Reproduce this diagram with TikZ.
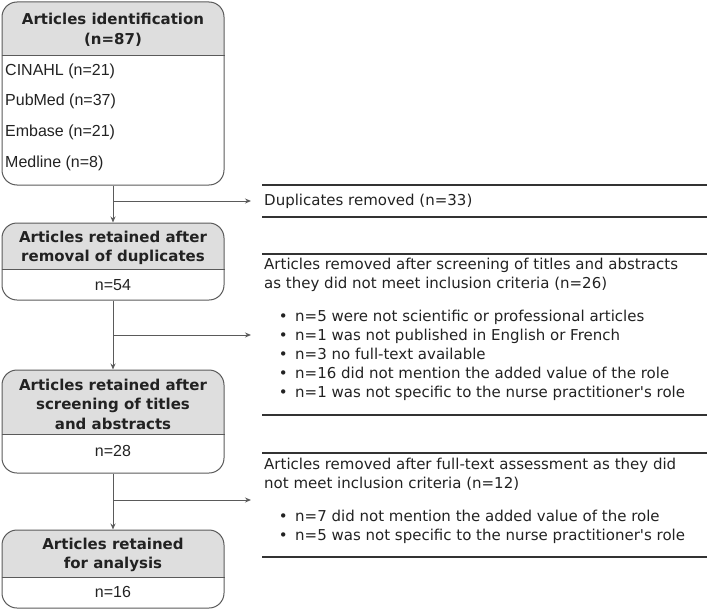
\documentclass[tikz,border=0pt]{standalone}
\usepackage{fontspec}
\newfontfamily\verd{DejaVu Sans}
\newfontfamily\arialf{Liberation Sans}
\usetikzlibrary{arrows.meta,calc}
\definecolor{hdr}{HTML}{DEDEDE}
\definecolor{edge}{HTML}{5A5A5A}
\definecolor{ink}{HTML}{222222}
\definecolor{rulec}{HTML}{333333}
\newcommand\bitem{\makebox[31pt][l]{\hspace*{14.6pt}\textbullet}}
\begin{document}
\begin{tikzpicture}[x=1pt,y=-1pt,
  frame/.style={draw=edge, line width=1pt, rounded corners=15pt, inner sep=0pt, minimum width=222pt},
  divider/.style={draw=edge, line width=1pt},
  htext/.style={font=\verd\bfseries\fontsize{15}{19.5}\selectfont, align=center, text=ink, inner sep=0pt},
  btext/.style={font=\arialf\fontsize{16}{18}\selectfont, text=ink, inner sep=0pt},
  rtext/.style={font=\verd\fontsize{15}{19}\selectfont, align=left, text=ink, inner sep=0pt, anchor=north west},
  rulel/.style={draw=rulec, line width=2pt},
  arr/.style={draw=edge, line width=1pt, -{Stealth[length=6pt,width=5pt]}}
]
\useasboundingbox (0,0) rectangle (709,610);

% ---------- box 1
\begin{scope}
\clip[rounded corners=15pt] (2,2) rectangle (224,185);
\fill[hdr] (2,2) rectangle (224,56);
\end{scope}
\node[frame, minimum height=183pt] (b1) at (113,93.5) {};
\draw[divider] (b1.west |- 0,56) -- (b1.east |- 0,56);
\node[htext] (b1h) at (113,30) {Articles identification\\(n=87)};
\node[btext, anchor=west, align=left, font=\arialf\fontsize{16}{30.7}\selectfont] (b1l) at (5,117)
  {CINAHL (n=21)\\PubMed (n=37)\\Embase (n=21)\\Medline (n=8)};

% ---------- box 2
\begin{scope}
\clip[rounded corners=15pt] (2,223) rectangle (224,300);
\fill[hdr] (2,223) rectangle (224,269);
\end{scope}
\node[frame, minimum height=77pt] (b2) at (113,261.5) {};
\draw[divider] (b2.west |- 0,269) -- (b2.east |- 0,269);
\node[htext] (b2h) at (113,248) {Articles retained after\\removal of duplicates};
\node[btext] (b2n) at (113,285) {n=54};

% ---------- box 3
\begin{scope}
\clip[rounded corners=15pt] (2,370) rectangle (224,473);
\fill[hdr] (2,370) rectangle (224,434);
\end{scope}
\node[frame, minimum height=103pt] (b3) at (113,421.5) {};
\draw[divider] (b3.west |- 0,434) -- (b3.east |- 0,434);
\node[htext] (b3h) at (113,404) {Articles retained after\\screening of titles\\and abstracts};
\node[btext] (b3n) at (113,451) {n=28};

% ---------- box 4
\begin{scope}
\clip[rounded corners=15pt] (2,530) rectangle (224,608);
\fill[hdr] (2,530) rectangle (224,577);
\end{scope}
\node[frame, minimum height=78pt] (b4) at (113,569) {};
\draw[divider] (b4.west |- 0,577) -- (b4.east |- 0,577);
\node[htext] (b4h) at (113,555) {Articles retained\\for analysis};
\node[btext] (b4n) at (113,592) {n=16};

% ---------- right side boxes
\coordinate (r1a) at (262,185); \coordinate (r1b) at (707,185);
\coordinate (r1c) at (262,217); \coordinate (r1d) at (707,217);
\draw[rulel] (r1a) -- (r1b);
\draw[rulel] (r1c) -- (r1d);
\node[rtext, anchor=west] (r1) at (264,201.5) {Duplicates removed (n=33)};

\coordinate (r2a) at (262,254); \coordinate (r2b) at (707,254);
\coordinate (r2c) at (262,415); \coordinate (r2d) at (707,415);
\draw[rulel] (r2a) -- (r2b);
\draw[rulel] (r2c) -- (r2d);
\node[rtext] (r2) at (264,258) {Articles removed after screening of titles and abstracts\\
as they did not meet inclusion criteria (n=26)\\[14pt]
\bitem n=5 were not scientific or professional articles\\
\bitem n=1 was not published in English or French\\
\bitem n=3 no full-text available\\
\bitem n=16 did not mention the added value of the role\\
\bitem n=1 was not specific to the nurse practitioner's role};

\coordinate (r3a) at (262,453); \coordinate (r3b) at (707,453);
\coordinate (r3c) at (262,557); \coordinate (r3d) at (707,557);
\draw[rulel] (r3a) -- (r3b);
\draw[rulel] (r3c) -- (r3d);
\node[rtext] (r3) at (264,458) {Articles removed after full-text assessment as they did\\
not meet inclusion criteria (n=12)\\[14pt]
\bitem n=7 did not mention the added value of the role\\
\bitem n=5 was not specific to the nurse practitioner's role};

% ---------- connectors
\draw[arr] (b1.south) -- (b2.north);
\draw[arr] (b2.south) -- (b3.north);
\draw[arr] (b3.south) -- (b4.north);
\coordinate (e1) at (251,201);
\coordinate (e2) at (251,335);
\coordinate (e3) at (251,500);
\draw[arr] (b1.south |- e1) -- (e1);
\draw[arr] (b2.south |- e2) -- (e2);
\draw[arr] (b3.south |- e3) -- (e3);
\end{tikzpicture}
\end{document}
